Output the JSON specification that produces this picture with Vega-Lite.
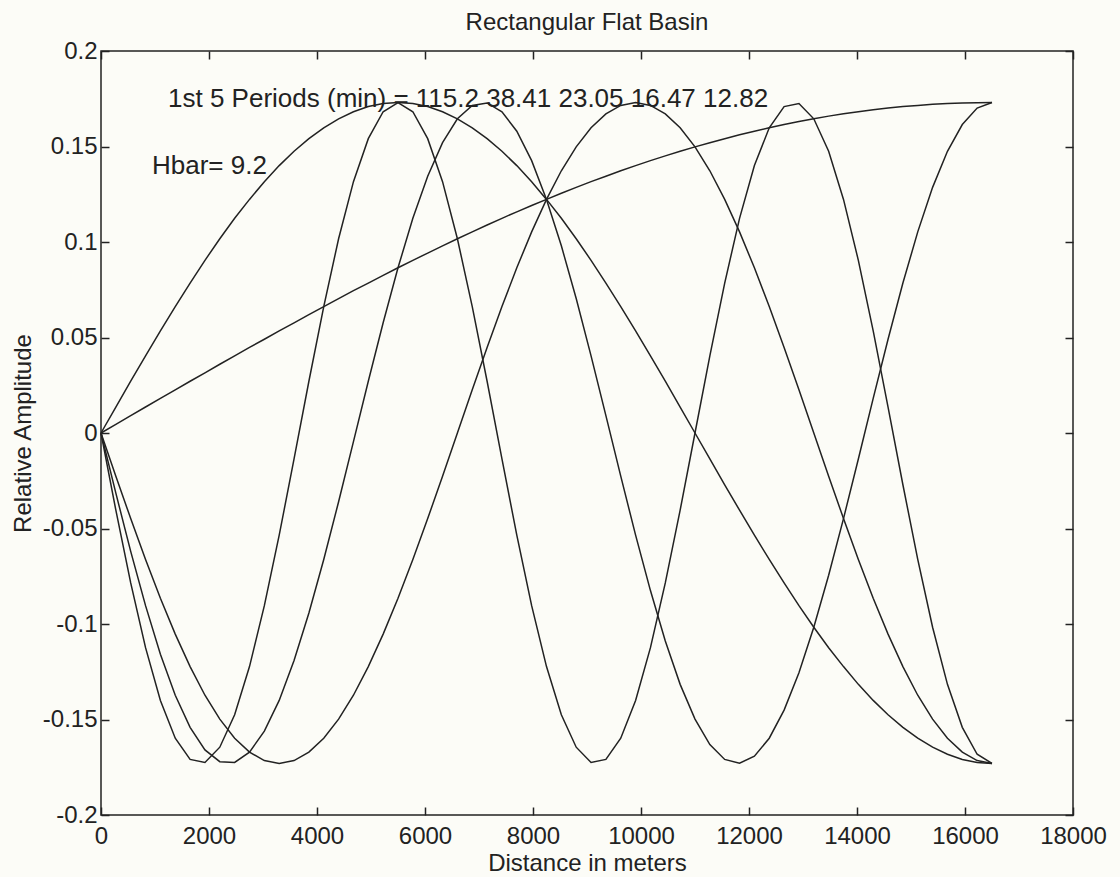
{
"$schema": "https://vega.github.io/schema/vega-lite/v6.json",
"width": 972,
"height": 764,
"autosize": {"type": "none"},
"padding": {"left": 101, "top": 51, "right": 47, "bottom": 62},
"background": "#fcfcf7",
"title": {"text": "Rectangular Flat Basin", "fontSize": 24, "font": "Liberation Sans", "fontWeight": "normal", "color": "#222222", "offset": 4},
"config": {
  "view": {"stroke": "#222222", "strokeWidth": 1.5},
  "font": "Liberation Sans",
  "axis": {"grid": false, "domain": false, "tickColor": "#222222", "tickWidth": 1.5, "labelColor": "#222222", "titleColor": "#222222", "labelFont": "Liberation Sans", "titleFont": "Liberation Sans", "labelFontSize": 24, "titleFontSize": 24, "titleFontWeight": "normal", "labelOverlap": false, "labelFlush": false}
},
"datasets": {
"notes": [
  {"label": "1st 5 Periods (min) = 115.2 38.41 23.05 16.47 12.82", "x": 1241, "y": 0.175},
  {"label": "Hbar= 9.2", "x": 944, "y": 0.140}
],
"curves": [
{"mode":1,"x":0,"y":0},{"mode":1,"x":275,"y":0.0045},{"mode":1,"x":550,"y":0.0091},{"mode":1,"x":825,"y":0.0136},{"mode":1,"x":1100,"y":0.0181},{"mode":1,"x":1375,"y":0.0226},{"mode":1,"x":1650,"y":0.0271},{"mode":1,"x":1925,"y":0.0315},{"mode":1,"x":2200,"y":0.0360},{"mode":1,"x":2475,"y":0.0404},{"mode":1,"x":2750,"y":0.0448},{"mode":1,"x":3025,"y":0.0491},{"mode":1,"x":3300,"y":0.0535},{"mode":1,"x":3575,"y":0.0577},{"mode":1,"x":3850,"y":0.0620},{"mode":1,"x":4125,"y":0.0662},{"mode":1,"x":4400,"y":0.0704},{"mode":1,"x":4675,"y":0.0745},{"mode":1,"x":4950,"y":0.0785},{"mode":1,"x":5225,"y":0.0825},{"mode":1,"x":5500,"y":0.0865},{"mode":1,"x":5775,"y":0.0904},{"mode":1,"x":6050,"y":0.0942},{"mode":1,"x":6325,"y":0.0980},{"mode":1,"x":6600,"y":0.1017},{"mode":1,"x":6875,"y":0.1053},{"mode":1,"x":7150,"y":0.1089},{"mode":1,"x":7425,"y":0.1124},{"mode":1,"x":7700,"y":0.1158},{"mode":1,"x":7975,"y":0.1191},{"mode":1,"x":8250,"y":0.1223},{"mode":1,"x":8525,"y":0.1255},{"mode":1,"x":8800,"y":0.1286},{"mode":1,"x":9075,"y":0.1316},{"mode":1,"x":9350,"y":0.1344},{"mode":1,"x":9625,"y":0.1373},{"mode":1,"x":9900,"y":0.1400},{"mode":1,"x":10175,"y":0.1426},{"mode":1,"x":10450,"y":0.1451},{"mode":1,"x":10725,"y":0.1475},{"mode":1,"x":11000,"y":0.1498},{"mode":1,"x":11275,"y":0.1520},{"mode":1,"x":11550,"y":0.1541},{"mode":1,"x":11825,"y":0.1561},{"mode":1,"x":12100,"y":0.1580},{"mode":1,"x":12375,"y":0.1598},{"mode":1,"x":12650,"y":0.1615},{"mode":1,"x":12925,"y":0.1631},{"mode":1,"x":13200,"y":0.1645},{"mode":1,"x":13475,"y":0.1659},{"mode":1,"x":13750,"y":0.1671},{"mode":1,"x":14025,"y":0.1682},{"mode":1,"x":14300,"y":0.1692},{"mode":1,"x":14575,"y":0.1701},{"mode":1,"x":14850,"y":0.1709},{"mode":1,"x":15125,"y":0.1715},{"mode":1,"x":15400,"y":0.1721},{"mode":1,"x":15675,"y":0.1725},{"mode":1,"x":15950,"y":0.1728},{"mode":1,"x":16225,"y":0.1729},{"mode":1,"x":16500,"y":0.173},
{"mode":2,"x":0,"y":0},{"mode":2,"x":275,"y":0.0136},{"mode":2,"x":550,"y":0.0271},{"mode":2,"x":825,"y":0.0404},{"mode":2,"x":1100,"y":0.0535},{"mode":2,"x":1375,"y":0.0662},{"mode":2,"x":1650,"y":0.0785},{"mode":2,"x":1925,"y":0.0904},{"mode":2,"x":2200,"y":0.1017},{"mode":2,"x":2475,"y":0.1124},{"mode":2,"x":2750,"y":0.1223},{"mode":2,"x":3025,"y":0.1316},{"mode":2,"x":3300,"y":0.1400},{"mode":2,"x":3575,"y":0.1475},{"mode":2,"x":3850,"y":0.1541},{"mode":2,"x":4125,"y":0.1598},{"mode":2,"x":4400,"y":0.1645},{"mode":2,"x":4675,"y":0.1682},{"mode":2,"x":4950,"y":0.1709},{"mode":2,"x":5225,"y":0.1725},{"mode":2,"x":5500,"y":0.173},{"mode":2,"x":5775,"y":0.1725},{"mode":2,"x":6050,"y":0.1709},{"mode":2,"x":6325,"y":0.1682},{"mode":2,"x":6600,"y":0.1645},{"mode":2,"x":6875,"y":0.1598},{"mode":2,"x":7150,"y":0.1541},{"mode":2,"x":7425,"y":0.1475},{"mode":2,"x":7700,"y":0.1400},{"mode":2,"x":7975,"y":0.1316},{"mode":2,"x":8250,"y":0.1223},{"mode":2,"x":8525,"y":0.1124},{"mode":2,"x":8800,"y":0.1017},{"mode":2,"x":9075,"y":0.0904},{"mode":2,"x":9350,"y":0.0785},{"mode":2,"x":9625,"y":0.0662},{"mode":2,"x":9900,"y":0.0535},{"mode":2,"x":10175,"y":0.0404},{"mode":2,"x":10450,"y":0.0271},{"mode":2,"x":10725,"y":0.0136},{"mode":2,"x":11000,"y":0},{"mode":2,"x":11275,"y":-0.0136},{"mode":2,"x":11550,"y":-0.0271},{"mode":2,"x":11825,"y":-0.0404},{"mode":2,"x":12100,"y":-0.0535},{"mode":2,"x":12375,"y":-0.0662},{"mode":2,"x":12650,"y":-0.0785},{"mode":2,"x":12925,"y":-0.0904},{"mode":2,"x":13200,"y":-0.1017},{"mode":2,"x":13475,"y":-0.1124},{"mode":2,"x":13750,"y":-0.1223},{"mode":2,"x":14025,"y":-0.1316},{"mode":2,"x":14300,"y":-0.1400},{"mode":2,"x":14575,"y":-0.1475},{"mode":2,"x":14850,"y":-0.1541},{"mode":2,"x":15125,"y":-0.1598},{"mode":2,"x":15400,"y":-0.1645},{"mode":2,"x":15675,"y":-0.1682},{"mode":2,"x":15950,"y":-0.1709},{"mode":2,"x":16225,"y":-0.1725},{"mode":2,"x":16500,"y":-0.173},
{"mode":3,"x":0,"y":0},{"mode":3,"x":275,"y":-0.0226},{"mode":3,"x":550,"y":-0.0448},{"mode":3,"x":825,"y":-0.0662},{"mode":3,"x":1100,"y":-0.0865},{"mode":3,"x":1375,"y":-0.1053},{"mode":3,"x":1650,"y":-0.1223},{"mode":3,"x":1925,"y":-0.1373},{"mode":3,"x":2200,"y":-0.1498},{"mode":3,"x":2475,"y":-0.1598},{"mode":3,"x":2750,"y":-0.1671},{"mode":3,"x":3025,"y":-0.1715},{"mode":3,"x":3300,"y":-0.173},{"mode":3,"x":3575,"y":-0.1715},{"mode":3,"x":3850,"y":-0.1671},{"mode":3,"x":4125,"y":-0.1598},{"mode":3,"x":4400,"y":-0.1498},{"mode":3,"x":4675,"y":-0.1373},{"mode":3,"x":4950,"y":-0.1223},{"mode":3,"x":5225,"y":-0.1053},{"mode":3,"x":5500,"y":-0.0865},{"mode":3,"x":5775,"y":-0.0662},{"mode":3,"x":6050,"y":-0.0448},{"mode":3,"x":6325,"y":-0.0226},{"mode":3,"x":6600,"y":0},{"mode":3,"x":6875,"y":0.0226},{"mode":3,"x":7150,"y":0.0448},{"mode":3,"x":7425,"y":0.0662},{"mode":3,"x":7700,"y":0.0865},{"mode":3,"x":7975,"y":0.1053},{"mode":3,"x":8250,"y":0.1223},{"mode":3,"x":8525,"y":0.1373},{"mode":3,"x":8800,"y":0.1498},{"mode":3,"x":9075,"y":0.1598},{"mode":3,"x":9350,"y":0.1671},{"mode":3,"x":9625,"y":0.1715},{"mode":3,"x":9900,"y":0.173},{"mode":3,"x":10175,"y":0.1715},{"mode":3,"x":10450,"y":0.1671},{"mode":3,"x":10725,"y":0.1598},{"mode":3,"x":11000,"y":0.1498},{"mode":3,"x":11275,"y":0.1373},{"mode":3,"x":11550,"y":0.1223},{"mode":3,"x":11825,"y":0.1053},{"mode":3,"x":12100,"y":0.0865},{"mode":3,"x":12375,"y":0.0662},{"mode":3,"x":12650,"y":0.0448},{"mode":3,"x":12925,"y":0.0226},{"mode":3,"x":13200,"y":0},{"mode":3,"x":13475,"y":-0.0226},{"mode":3,"x":13750,"y":-0.0448},{"mode":3,"x":14025,"y":-0.0662},{"mode":3,"x":14300,"y":-0.0865},{"mode":3,"x":14575,"y":-0.1053},{"mode":3,"x":14850,"y":-0.1223},{"mode":3,"x":15125,"y":-0.1373},{"mode":3,"x":15400,"y":-0.1498},{"mode":3,"x":15675,"y":-0.1598},{"mode":3,"x":15950,"y":-0.1671},{"mode":3,"x":16225,"y":-0.1715},{"mode":3,"x":16500,"y":-0.173},
{"mode":4,"x":0,"y":0},{"mode":4,"x":275,"y":-0.0315},{"mode":4,"x":550,"y":-0.0620},{"mode":4,"x":825,"y":-0.0904},{"mode":4,"x":1100,"y":-0.1158},{"mode":4,"x":1375,"y":-0.1373},{"mode":4,"x":1650,"y":-0.1541},{"mode":4,"x":1925,"y":-0.1659},{"mode":4,"x":2200,"y":-0.1721},{"mode":4,"x":2475,"y":-0.1725},{"mode":4,"x":2750,"y":-0.1671},{"mode":4,"x":3025,"y":-0.1561},{"mode":4,"x":3300,"y":-0.1400},{"mode":4,"x":3575,"y":-0.1191},{"mode":4,"x":3850,"y":-0.0942},{"mode":4,"x":4125,"y":-0.0662},{"mode":4,"x":4400,"y":-0.0360},{"mode":4,"x":4675,"y":-0.0045},{"mode":4,"x":4950,"y":0.0271},{"mode":4,"x":5225,"y":0.0577},{"mode":4,"x":5500,"y":0.0865},{"mode":4,"x":5775,"y":0.1124},{"mode":4,"x":6050,"y":0.1344},{"mode":4,"x":6325,"y":0.1520},{"mode":4,"x":6600,"y":0.1645},{"mode":4,"x":6875,"y":0.1715},{"mode":4,"x":7150,"y":0.1728},{"mode":4,"x":7425,"y":0.1682},{"mode":4,"x":7700,"y":0.1580},{"mode":4,"x":7975,"y":0.1426},{"mode":4,"x":8250,"y":0.1223},{"mode":4,"x":8525,"y":0.0980},{"mode":4,"x":8800,"y":0.0704},{"mode":4,"x":9075,"y":0.0404},{"mode":4,"x":9350,"y":0.0091},{"mode":4,"x":9625,"y":-0.0226},{"mode":4,"x":9900,"y":-0.0535},{"mode":4,"x":10175,"y":-0.0825},{"mode":4,"x":10450,"y":-0.1089},{"mode":4,"x":10725,"y":-0.1316},{"mode":4,"x":11000,"y":-0.1498},{"mode":4,"x":11275,"y":-0.1631},{"mode":4,"x":11550,"y":-0.1709},{"mode":4,"x":11825,"y":-0.1729},{"mode":4,"x":12100,"y":-0.1692},{"mode":4,"x":12375,"y":-0.1598},{"mode":4,"x":12650,"y":-0.1451},{"mode":4,"x":12925,"y":-0.1255},{"mode":4,"x":13200,"y":-0.1017},{"mode":4,"x":13475,"y":-0.0745},{"mode":4,"x":13750,"y":-0.0448},{"mode":4,"x":14025,"y":-0.0136},{"mode":4,"x":14300,"y":0.0181},{"mode":4,"x":14575,"y":0.0491},{"mode":4,"x":14850,"y":0.0785},{"mode":4,"x":15125,"y":0.1053},{"mode":4,"x":15400,"y":0.1286},{"mode":4,"x":15675,"y":0.1475},{"mode":4,"x":15950,"y":0.1615},{"mode":4,"x":16225,"y":0.1701},{"mode":4,"x":16500,"y":0.173},
{"mode":5,"x":0,"y":0},{"mode":5,"x":275,"y":-0.0404},{"mode":5,"x":550,"y":-0.0785},{"mode":5,"x":825,"y":-0.1124},{"mode":5,"x":1100,"y":-0.1400},{"mode":5,"x":1375,"y":-0.1598},{"mode":5,"x":1650,"y":-0.1709},{"mode":5,"x":1925,"y":-0.1725},{"mode":5,"x":2200,"y":-0.1645},{"mode":5,"x":2475,"y":-0.1475},{"mode":5,"x":2750,"y":-0.1223},{"mode":5,"x":3025,"y":-0.0904},{"mode":5,"x":3300,"y":-0.0535},{"mode":5,"x":3575,"y":-0.0136},{"mode":5,"x":3850,"y":0.0271},{"mode":5,"x":4125,"y":0.0662},{"mode":5,"x":4400,"y":0.1017},{"mode":5,"x":4675,"y":0.1316},{"mode":5,"x":4950,"y":0.1541},{"mode":5,"x":5225,"y":0.1682},{"mode":5,"x":5500,"y":0.173},{"mode":5,"x":5775,"y":0.1682},{"mode":5,"x":6050,"y":0.1541},{"mode":5,"x":6325,"y":0.1316},{"mode":5,"x":6600,"y":0.1017},{"mode":5,"x":6875,"y":0.0662},{"mode":5,"x":7150,"y":0.0271},{"mode":5,"x":7425,"y":-0.0136},{"mode":5,"x":7700,"y":-0.0535},{"mode":5,"x":7975,"y":-0.0904},{"mode":5,"x":8250,"y":-0.1223},{"mode":5,"x":8525,"y":-0.1475},{"mode":5,"x":8800,"y":-0.1645},{"mode":5,"x":9075,"y":-0.1725},{"mode":5,"x":9350,"y":-0.1709},{"mode":5,"x":9625,"y":-0.1598},{"mode":5,"x":9900,"y":-0.1400},{"mode":5,"x":10175,"y":-0.1124},{"mode":5,"x":10450,"y":-0.0785},{"mode":5,"x":10725,"y":-0.0404},{"mode":5,"x":11000,"y":0},{"mode":5,"x":11275,"y":0.0404},{"mode":5,"x":11550,"y":0.0785},{"mode":5,"x":11825,"y":0.1124},{"mode":5,"x":12100,"y":0.1400},{"mode":5,"x":12375,"y":0.1598},{"mode":5,"x":12650,"y":0.1709},{"mode":5,"x":12925,"y":0.1725},{"mode":5,"x":13200,"y":0.1645},{"mode":5,"x":13475,"y":0.1475},{"mode":5,"x":13750,"y":0.1223},{"mode":5,"x":14025,"y":0.0904},{"mode":5,"x":14300,"y":0.0535},{"mode":5,"x":14575,"y":0.0136},{"mode":5,"x":14850,"y":-0.0271},{"mode":5,"x":15125,"y":-0.0662},{"mode":5,"x":15400,"y":-0.1017},{"mode":5,"x":15675,"y":-0.1316},{"mode":5,"x":15950,"y":-0.1541},{"mode":5,"x":16225,"y":-0.1682},{"mode":5,"x":16500,"y":-0.173}
]
},
"layer": [
  {
    "data": {"name": "curves"},
    "mark": {"type": "line", "color": "#222222", "strokeWidth": 1.5},
    "encoding": {
      "x": {"field": "x", "type": "quantitative", "scale": {"domain": [0, 18000], "nice": false, "zero": false},
        "axis": {"orient": "bottom", "title": "Distance in meters", "values": [0, 2000, 4000, 6000, 8000, 10000, 12000, 14000, 16000, 18000], "format": "d", "tickSize": -8, "labelPadding": 17, "titlePadding": 3}},
      "y": {"field": "y", "type": "quantitative", "scale": {"domain": [-0.2, 0.2], "nice": false, "zero": false},
        "axis": {"orient": "left", "title": "Relative Amplitude", "values": [-0.2, -0.15, -0.1, -0.05, 0, 0.05, 0.1, 0.15, 0.2], "labelExpr": "(datum.value < 0 ? '-' : '') + format(abs(datum.value), '~g')", "tickSize": -8, "labelPadding": 12, "titlePadding": 7}},
      "detail": {"field": "mode", "type": "nominal"}
    }
  },
  {
    "data": {"name": "notes"},
    "mark": {"type": "text", "align": "left", "baseline": "middle", "fontSize": 26, "font": "Liberation Sans", "color": "#222222"},
    "encoding": {
      "x": {"field": "x", "type": "quantitative", "scale": {"domain": [0, 18000], "nice": false, "zero": false},
        "axis": {"orient": "top", "title": null, "labels": false, "values": [0, 2000, 4000, 6000, 8000, 10000, 12000, 14000, 16000, 18000], "tickSize": -8}},
      "y": {"field": "y", "type": "quantitative", "scale": {"domain": [-0.2, 0.2], "nice": false, "zero": false},
        "axis": {"orient": "right", "title": null, "labels": false, "values": [-0.2, -0.15, -0.1, -0.05, 0, 0.05, 0.1, 0.15, 0.2], "tickSize": -8}},
      "text": {"field": "label", "type": "nominal"}
    }
  }
],
"resolve": {"axis": {"x": "independent", "y": "independent"}}
}
